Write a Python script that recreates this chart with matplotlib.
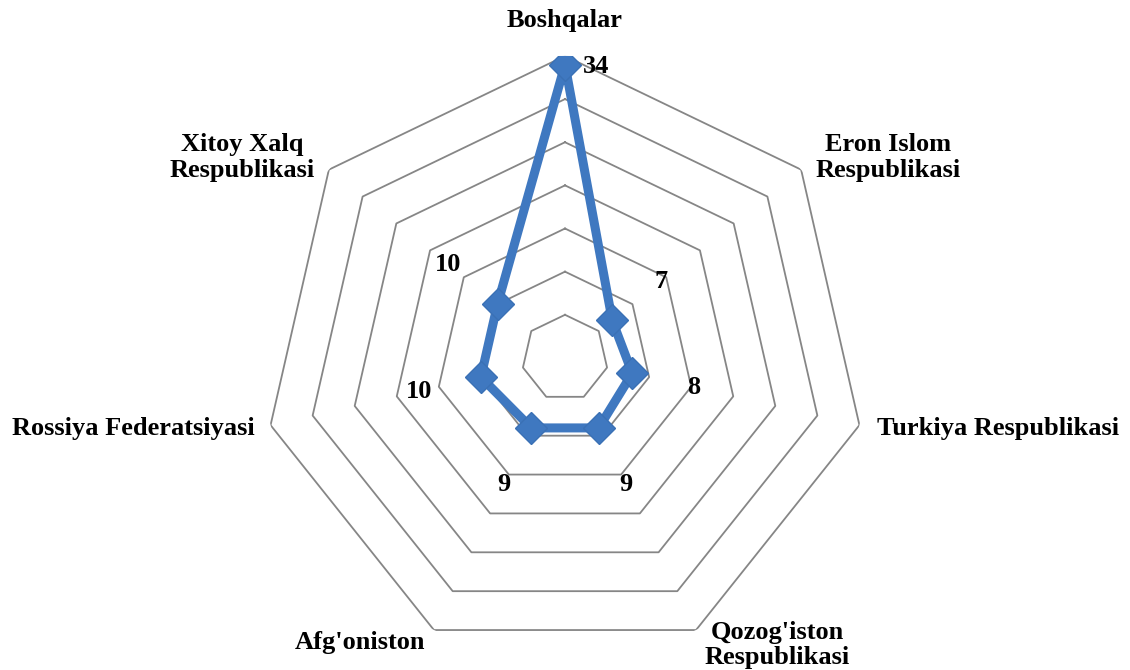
import numpy as np
import matplotlib.pyplot as plt

categories = ['Boshqalar', 'Eron Islom\nRespublikasi', 'Turkiya Respublikasi',
              "Qozog'iston\nRespublikasi", "Afg'oniston", 'Rossiya Federatsiyasi',
              'Xitoy Xalq\nRespublikasi']
values = [34, 7, 8, 9, 9, 10, 10]
rings = [5, 10, 15, 20, 25, 30, 35]

plt.rcParams['font.family'] = ['Liberation Serif', 'DejaVu Serif']

fig = plt.figure(figsize=(11.3, 6.7), dpi=100)
# square polar box, 604 px wide, centred at (565, 358)
ax = fig.add_axes([0.2327, 0.015, 0.5346, 0.9015], projection='polar')
ax.set_theta_offset(np.pi / 2)
ax.set_theta_direction(-1)
ax.set_ylim(0, 35)
ax.axis('off')

n = len(categories)
theta = np.linspace(0, 2 * np.pi, n, endpoint=False)
th_closed = np.append(theta, theta[0])

# heptagon grid
for r in rings:
    ax.plot(th_closed, [r] * (n + 1), color='#868686', lw=1.3, zorder=1)

vals_closed = values + [values[0]]
ax.plot(th_closed, vals_closed, color='#3F78C0', lw=6.5, zorder=3,
        solid_joinstyle='miter')
ax.plot(theta, values, ls='none', marker='D', ms=16, color='#3F78C0',
        markeredgecolor='#3A70B5', zorder=4)

fs = 19
# data labels
for i, (t, v) in enumerate(zip(theta, values)):
    if v == max(values):
        ax.annotate(str(v), xy=(t, v), xytext=(18, -2), textcoords='offset pixels',
                    ha='left', va='center', fontsize=fs, fontweight='bold')
    else:
        ax.text(t, v + 7.3, str(v), ha='center', va='center',
                fontsize=fs, fontweight='bold')

# category labels
label_pos = [
    ((0, 24), 'center', 'bottom'),
    ((14, 12), 'left', 'center'),
    ((18, -3), 'left', 'center'),
    ((9, -15), 'left', 'center'),
    ((-9, -12), 'right', 'center'),
    ((-16, -3), 'right', 'center'),
    ((-14, 12), 'right', 'center'),
]
for t, lab, (off, ha, va) in zip(theta, categories, label_pos):
    ax.annotate(lab, xy=(t, 35), xytext=off, textcoords='offset pixels',
                ha=ha, va=va, multialignment='center',
                fontsize=fs, fontweight='bold', linespacing=1.15)

fig.savefig('out.png', dpi=100)
